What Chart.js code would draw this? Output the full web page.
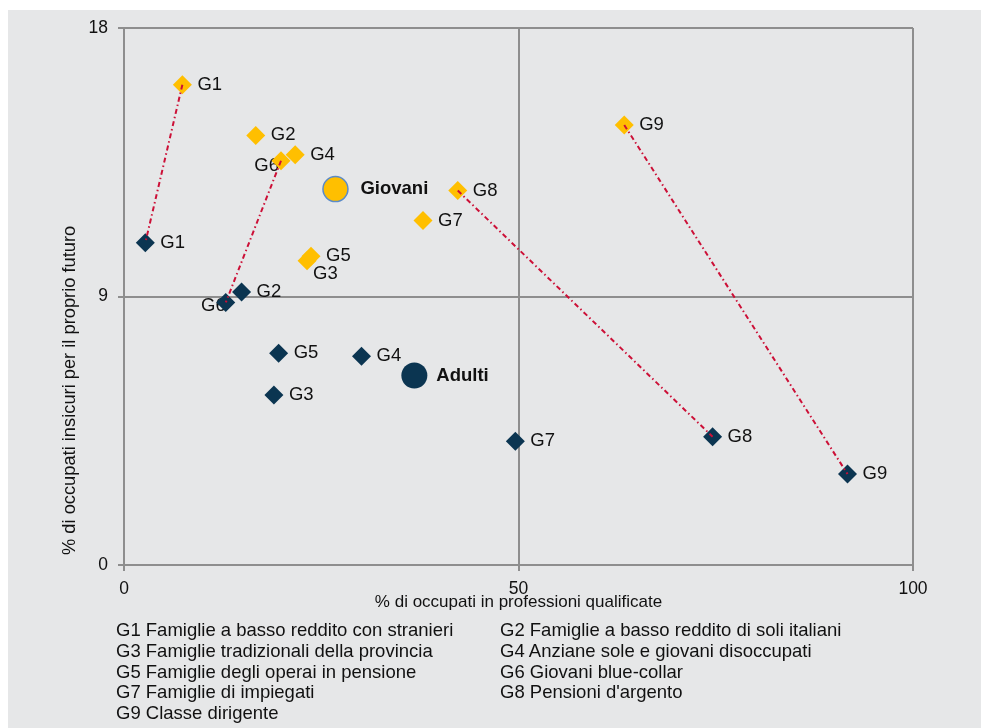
<!DOCTYPE html>
<html>
<head>
<meta charset="utf-8">
<script src="https://cdn.jsdelivr.net/npm/chart.js@4.4.1/dist/chart.umd.min.js"></script>
<style>
  body { margin:0; background:#fff; width:981px; height:728px; overflow:hidden; position:relative;
         font-family:"Liberation Sans", Arial, sans-serif; }
  #panel { position:absolute; left:8px; top:10px; width:973px; height:718px; background:#e6e7e8; }
  #chart { position:absolute; left:0; top:0; }
  #key { position:absolute; left:116px; top:620px; display:grid; grid-template-columns:384px auto;
         font-size:18.5px; line-height:20.8px; color:#111; white-space:nowrap; }
</style>
</head>
<body>
<div id="panel"></div>
<canvas id="chart" width="981" height="728"></canvas>
<div id="key"></div>
<script>
// groups and their descriptions
const groups = ['G1','G2','G3','G4','G5','G6','G7','G8','G9'];
const groupNames = [
	'Famiglie a basso reddito con stranieri',
	'Famiglie a basso reddito di soli italiani',
	'Famiglie tradizionali della provincia',
	'Anziane sole e giovani disoccupati',
	'Famiglie degli operai in pensione',
	'Giovani blue-collar',
	'Famiglie di impiegati',
	"Pensioni d'argento",
	'Classe dirigente'
];

// x = % occupati in professioni qualificate, y = % occupati insicuri
const giovaniX = [7.4, 16.7, 23.2, 21.7, 23.7, 19.9, 37.9, 42.3, 63.4];
const giovaniY = [16.1, 14.4, 10.2, 13.75, 10.35, 13.55, 11.55, 12.55, 14.75];
const adultiX  = [2.7, 14.9, 19.0, 30.1, 19.6, 12.9, 49.6, 74.6, 91.7];
const adultiY  = [10.8, 9.15, 5.7, 7.0, 7.1, 8.8, 4.15, 4.3, 3.05];

const totalLabels = ['Giovani', 'Adulti'];
const totalX = [26.8, 36.8];
const totalY = [12.6, 6.35];

// groups joined giovani -> adulti
const linkedGroups = ['G1', 'G6', 'G8', 'G9'];

const xTicks = [0, 50, 100];
const yTicks = [0, 9, 18];
const xTitle = '% di occupati in professioni qualificate';
const yTitle = '% di occupati insicuri per il proprio futuro';

const FONT = '"Liberation Sans", Arial, sans-serif';
const YELLOW = '#ffbf00', NAVY = '#0b3551', RED = '#cc1037', GRID = '#8e8e8e';

// label placement (default: right of the point)
const labelPos = {
	'giovani:G6': { dx: -2, dy: 5, align: 'right' },
	'giovani:G3': { dx: 6, dy: 13, align: 'left' },
	'adulti:G6':  { dx: 0, dy: 3, align: 'right' },
	'totali:Giovani': { dx: 25, dy: 0, align: 'left' },
	'totali:Adulti':  { dx: 22, dy: 0, align: 'left' }
};

document.getElementById('key').innerHTML = groups
	.map((g, i) => `<div>${g} ${groupNames[i]}</div>`).join('');

const links = linkedGroups.map(g => {
	const i = groups.indexOf(g);
	return {
		data: [{x: giovaniX[i], y: giovaniY[i]}, {x: adultiX[i], y: adultiY[i]}],
		showLine: true, borderColor: RED, borderWidth: 2, borderDash: [5, 3, 1.5, 3],
		pointRadius: 0, order: 0
	};
});

const pointLabelsPlugin = {
	id: 'pointLabels',
	beforeDatasetsDraw(chart) {
		const ctx = chart.ctx;
		ctx.save();
		ctx.fillStyle = '#111';
		ctx.textBaseline = 'middle';
		chart.data.datasets.forEach((ds, di) => {
			if (!ds.pointLabels) return;
			const meta = chart.getDatasetMeta(di);
			ctx.font = (ds.boldLabels ? 'bold ' : '') + '18.5px ' + FONT;
			meta.data.forEach((pt, j) => {
				const p = labelPos[ds.key + ':' + ds.pointLabels[j]] || { dx: 15, dy: 0, align: 'left' };
				ctx.textAlign = p.align;
				ctx.fillText(ds.pointLabels[j], pt.x + p.dx, pt.y + p.dy);
			});
		});
		ctx.restore();
	},
	afterDraw(chart) {
		const ctx = chart.ctx;
		ctx.save();
		ctx.fillStyle = '#111';
		ctx.font = '18.3px ' + FONT;
		ctx.translate(70, chart.chartArea.bottom - 10);
		ctx.rotate(-Math.PI / 2);
		ctx.textAlign = 'left';
		ctx.textBaseline = 'middle';
		ctx.fillText(yTitle, 0, 0);
		ctx.restore();
	}
};

new Chart(document.getElementById('chart'), {
	type: 'scatter',
	data: {
		datasets: links.concat([
			{
				key: 'giovani', pointLabels: groups,
				data: groups.map((g, i) => ({x: giovaniX[i], y: giovaniY[i]})),
				pointStyle: 'rectRot', pointRadius: 9.5, backgroundColor: YELLOW, borderWidth: 0, order: 2
			},
			{
				key: 'adulti', pointLabels: groups,
				data: groups.map((g, i) => ({x: adultiX[i], y: adultiY[i]})),
				pointStyle: 'rectRot', pointRadius: 9.5, backgroundColor: NAVY, borderWidth: 0, order: 2
			},
			{
				key: 'totali', pointLabels: totalLabels, boldLabels: true,
				data: totalLabels.map((t, i) => ({x: totalX[i], y: totalY[i]})),
				pointStyle: 'circle', pointRadius: [12.5, 13],
				backgroundColor: [YELLOW, NAVY], borderColor: ['#5b8bc8', NAVY], borderWidth: [1.5, 0], order: 2
			}
		])
	},
	options: {
		responsive: false,
		animation: false,
		devicePixelRatio: 1,
		layout: { padding: { left: 64, right: 68, top: 28, bottom: 115 } },
		plugins: { legend: { display: false }, tooltip: { enabled: false } },
		scales: {
			x: {
				min: 0, max: 100,
				afterBuildTicks: s => { s.ticks = xTicks.map(v => ({value: v})); },
				afterFit: s => { s.height = 48; },
				grid: { color: GRID, lineWidth: 2, tickLength: 6 },
				border: { color: GRID, width: 2 },
				ticks: { color: '#111', font: { size: 17.5, family: FONT }, padding: 8, maxRotation: 0 },
				title: { display: true, text: xTitle, color: '#111', font: { size: 17, family: FONT }, padding: 0 }
			},
			y: {
				min: 0, max: 18,
				afterBuildTicks: s => { s.ticks = yTicks.map(v => ({value: v})); },
				afterFit: s => { s.width = 60; },
				grid: { color: GRID, lineWidth: 2, tickLength: 6 },
				border: { color: GRID, width: 2 },
				ticks: { color: '#111', font: { size: 17.5, family: FONT }, padding: 10 }
			}
		}
	},
	plugins: [pointLabelsPlugin]
});
</script>
</body>
</html>
